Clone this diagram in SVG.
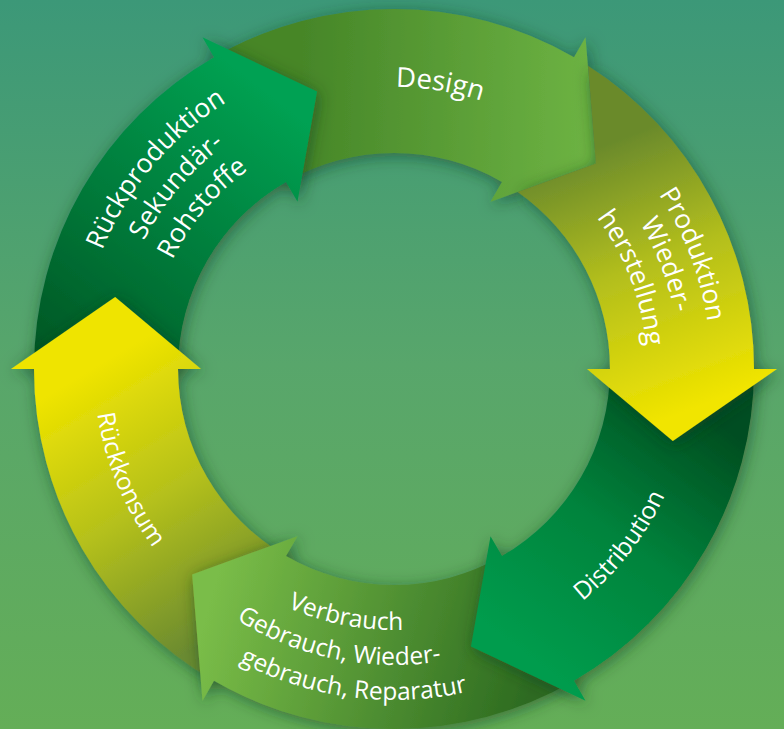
<svg xmlns="http://www.w3.org/2000/svg" width="784" height="729" viewBox="0 0 784 729">
<defs>
<linearGradient id="bg" x1="0" y1="0" x2="0" y2="729" gradientUnits="userSpaceOnUse">
<stop offset="0" stop-color="#3c9878"/>
<stop offset="0.5" stop-color="#58a66b"/>
<stop offset="1" stop-color="#64ae57"/>
</linearGradient>
<linearGradient id="gDesign" x1="300" y1="110" x2="590" y2="120" gradientUnits="userSpaceOnUse">
<stop offset="0" stop-color="#468628"/>
<stop offset="1" stop-color="#6db343"/>
</linearGradient>
<linearGradient id="gProd" x1="590" y1="150" x2="690" y2="410" gradientUnits="userSpaceOnUse">
<stop offset="0" stop-color="#6a8a2c"/>
<stop offset="0.45" stop-color="#b2be1d"/>
<stop offset="1" stop-color="#f1e500"/>
</linearGradient>
<linearGradient id="gDist" x1="700" y1="410" x2="520" y2="650" gradientUnits="userSpaceOnUse">
<stop offset="0" stop-color="#004e20"/>
<stop offset="0.5" stop-color="#00833c"/>
<stop offset="1" stop-color="#009c4d"/>
</linearGradient>
<linearGradient id="gVerb" x1="530" y1="690" x2="210" y2="600" gradientUnits="userSpaceOnUse">
<stop offset="0" stop-color="#2d6b20"/>
<stop offset="1" stop-color="#7abd48"/>
</linearGradient>
<linearGradient id="gRkon" x1="240" y1="620" x2="90" y2="370" gradientUnits="userSpaceOnUse">
<stop offset="0" stop-color="#6b8b30"/>
<stop offset="0.5" stop-color="#b4c01b"/>
<stop offset="1" stop-color="#efe400"/>
</linearGradient>
<linearGradient id="gRprod" x1="70" y1="390" x2="290" y2="110" gradientUnits="userSpaceOnUse">
<stop offset="0" stop-color="#005523"/>
<stop offset="1" stop-color="#00a152"/>
</linearGradient>
<filter id="shadow" x="-20%" y="-20%" width="140%" height="140%">
<feDropShadow dx="2" dy="3" stdDeviation="8" flood-color="#0a3a20" flood-opacity="0.55"/>
</filter>
<path id="tpDesign" d="M147.84,231.42 A282,282 0 0 1 671.01,316.16"/>
<path id="tpP1" d="M388.47,52.05 A317,317 0 0 1 601.97,608.24"/>
<path id="tpP2" d="M389.01,83.04 A286,286 0 0 1 581.63,584.85"/>
<path id="tpP3" d="M389.58,116.04 A253,253 0 0 1 559.98,559.94"/>
<path id="tpR1" d="M121.2,526.5 A315,315 0 0 1 501.74,73"/>
<path id="tpR2" d="M150.65,509.5 A281,281 0 0 1 490.11,104.95"/>
<path id="tpR3" d="M180.09,492.5 A247,247 0 0 1 478.48,136.9"/>
<path id="tpDist" d="M301.6,653.37 A299,299 0 0 0 647.57,210.55"/>
<path id="tpRkon" d="M190.94,148.17 A300,300 0 0 0 407.61,668.69"/>
<path id="tpV1" d="M136.21,409.83 A261,261 0 0 0 617.72,503.43"/>
<path id="tpV2" d="M101.25,412.75 A296,296 0 0 0 646.38,523.66"/>
<path id="tpV3" d="M70.85,440.64 A331,331 0 0 0 687.6,521.84"/>
</defs>
<style>
.arrow { filter: url(#shadow); }
.lbl { fill: #ffffff; font-family: "Open Sans", "Noto Sans", "DejaVu Sans", sans-serif; text-anchor: middle; }
.top { font-size: 26.5px; }
.bot { font-size: 24.5px; }
</style>
<rect x="0" y="0" width="784" height="729" fill="url(#bg)"/>
<g id="connectors"></g>
<g id="design">
<path class="arrow" fill="url(#gDesign)" d="M214,57.23 A360,360 0 0 1 574,57.23 L585.5,37.31 L595.86,163.58 L490.5,201.86 L502,181.94 A216,216 0 0 0 286,181.94 Z"/>
<text class="lbl top" style="font-size:27.5px"><textPath href="#tpDesign" startOffset="50%">Design</textPath></text>
</g>
<g id="rueckproduktion">
<path class="arrow" fill="url(#gRprod)" d="M34,369 A360,360 0 0 1 214,57.23 L202.5,37.31 L317.04,91.47 L297.5,201.86 L286,181.94 A216,216 0 0 0 178,369 Z"/>
<text class="lbl top"><textPath href="#tpR1" startOffset="50%">Rückproduktion</textPath></text>
<text class="lbl top"><textPath href="#tpR2" startOffset="50%">Sekundär-</textPath></text>
<text class="lbl top"><textPath href="#tpR3" startOffset="50%">Rohstoffe</textPath></text>
</g>
<g id="rueckkonsum">
<path class="arrow" fill="url(#gRkon)" d="M214,680.77 A360,360 0 0 1 34,369 L11,369 L115.17,296.89 L201,369 L178,369 A216,216 0 0 0 286,556.06 Z"/>
<text class="lbl bot"><textPath href="#tpRkon" startOffset="50%">Rückkonsum</textPath></text>
</g>
<g id="verbrauch">
<path class="arrow" fill="url(#gVerb)" d="M574,680.77 A360,360 0 0 1 214,680.77 L202.5,700.69 L192.14,574.42 L297.5,536.14 L286,556.06 A216,216 0 0 0 502,556.06 Z"/>
<text class="lbl bot"><textPath href="#tpV1" startOffset="50%">Verbrauch</textPath></text>
<text class="lbl bot"><textPath href="#tpV2" startOffset="50%">Gebrauch, Wieder-</textPath></text>
<text class="lbl bot"><textPath href="#tpV3" startOffset="50%">gebrauch, Reparatur</textPath></text>
</g>
<g id="distribution">
<path class="arrow" fill="url(#gDist)" d="M754,369 A360,360 0 0 1 574,680.77 L585.5,700.69 L470.96,646.53 L490.5,536.14 L502,556.06 A216,216 0 0 0 610,369 Z"/>
<text class="lbl bot"><textPath href="#tpDist" startOffset="50%">Distribution</textPath></text>
</g>
<g id="produktion">
<path class="arrow" fill="url(#gProd)" d="M588.01,65.75 A360,360 0 0 1 754,369 L777,369 L672.83,441.11 L587,369 L610,369 A216,216 0 0 0 517.65,191.89 L595.86,163.58 Z"/>
<text class="lbl top"><textPath href="#tpP1" startOffset="50%">Produktion</textPath></text>
<text class="lbl top"><textPath href="#tpP2" startOffset="50%">Wieder-</textPath></text>
<text class="lbl top"><textPath href="#tpP3" startOffset="50%">herstellung</textPath></text>
</g>
</svg>
